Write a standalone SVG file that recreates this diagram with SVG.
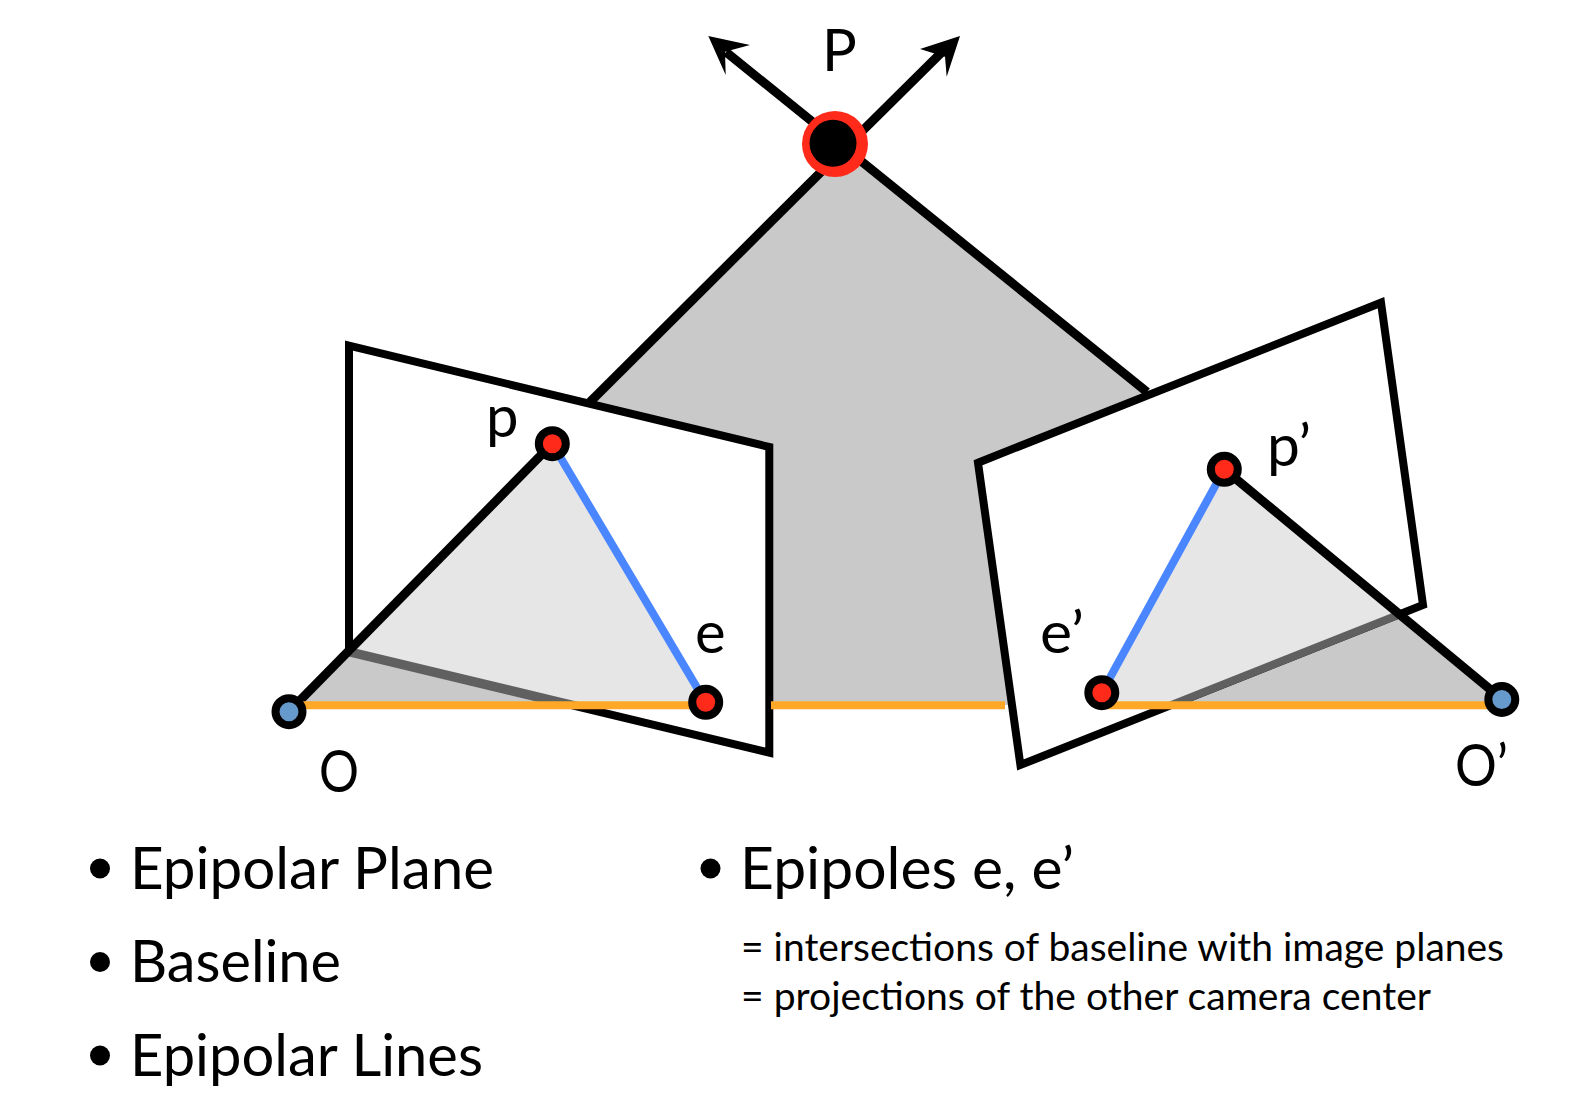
<svg xmlns="http://www.w3.org/2000/svg" width="1596" height="1100" viewBox="0 0 1596 1100">
<style>
text{font-family:"Lato","Open Sans","Liberation Sans",sans-serif;fill:#000}
.lab{font-size:58px}
.big{font-size:58px}
.sm{font-size:39px}
.quad{fill:#fff;stroke:#000;stroke-width:8;stroke-miterlimit:10}
.blk{stroke:#000;stroke-width:9;fill:none}
.blu{stroke:#4a86ff;stroke-width:8;fill:none}
.org{stroke:#ffa726;stroke-width:8;fill:none}
.nr{fill:#ff2a1a;stroke:#000;stroke-width:8}
.nb{fill:#6699cc;stroke:#000;stroke-width:8}
.lt{fill:#e6e6e6}
.dk{fill:#606060}
</style>
<rect width="1596" height="1100" fill="#fff"/>
<g id="plane"><polygon points="835,158 835,140 1147,392 1224,469 1502,705 289,705" fill="#c9c9c9"/></g>
<g id="imageLeft"><polygon class="quad" points="349,345.7 769.3,447 769.3,752.7 349,651.7"/><polygon class="lt" points="349,652 552,444 705.7,702 705.7,705 571,705"/><polygon class="dk" points="349,647 349,656.5 551,705 591,705"/></g>
<g id="imageRight"><polygon class="quad" points="978,462.7 1381,302.7 1423,605 1020.4,765"/><polygon class="lt" points="1224,469 1398,617 1171,705 1102,705 1102,693"/><polygon class="dk" points="1398,610.7 1398,619.3 1182,705 1160.7,705"/></g>
<g id="connectors">
<line class="blk" x1="835" y1="158" x2="590" y2="402"/>
<line class="blk" x1="835" y1="140" x2="1147" y2="392"/>
<line class="blk" x1="835" y1="140" x2="726" y2="52"/>
<line class="blk" x1="835" y1="158" x2="946" y2="48"/>
<polygon points="708.3,36 750,45 725,51.7 725.7,75"/>
<polygon points="960,36 920,49 945,56.7 946.7,76.7"/>
<line class="blk" x1="289" y1="711.7" x2="552.3" y2="443.7"/>
<line class="blk" x1="1224.3" y1="469.3" x2="1501.8" y2="699"/>
<line class="blu" x1="552.3" y1="443.7" x2="705.7" y2="702.3"/>
<line class="blu" x1="1224.3" y1="469.3" x2="1101.8" y2="692.7"/>
<line class="org" x1="289" y1="705.3" x2="705.7" y2="705.3"/>
<line class="org" x1="771" y1="705.3" x2="1005" y2="705.3"/>
<line class="org" x1="1101.8" y1="705.3" x2="1501.8" y2="705.3"/>
</g>
<g id="P"><circle cx="835" cy="144" r="33" fill="#ff2a1a"/><circle cx="833" cy="143.3" r="23.5" fill="#000"/><text class="lab" x="822" y="70.5">P</text></g>
<g id="p"><circle class="nr" cx="552.3" cy="443.7" r="13.5"/><text class="lab" x="486" y="437">p</text></g>
<g id="e"><circle class="nr" cx="705.7" cy="702.3" r="13.5"/><text class="lab" x="695" y="652.5">e</text></g>
<g id="pp"><circle class="nr" cx="1224.3" cy="469.3" r="13.5"/><text class="lab" x="1267" y="466" textLength="44" lengthAdjust="spacingAndGlyphs">p’</text></g>
<g id="ep"><circle class="nr" cx="1101.8" cy="692.7" r="13.5"/><text class="lab" x="1040" y="652.5" textLength="44" lengthAdjust="spacingAndGlyphs">e’</text></g>
<g id="O"><circle class="nb" cx="289" cy="711.7" r="13.5"/><text class="lab" x="319" y="792" textLength="40" lengthAdjust="spacingAndGlyphs">O</text></g>
<g id="Op"><circle class="nb" cx="1501.8" cy="699.5" r="13.5"/><text class="lab" x="1455" y="786" textLength="53" lengthAdjust="spacingAndGlyphs">O’</text></g>
<g id="legend">
<circle cx="100" cy="868.5" r="10"/><text class="big" x="130" y="889" textLength="364" lengthAdjust="spacingAndGlyphs">Epipolar Plane</text>
<circle cx="100" cy="962" r="10"/><text class="big" x="130" y="982" textLength="211" lengthAdjust="spacingAndGlyphs">Baseline</text>
<circle cx="100" cy="1055.5" r="10"/><text class="big" x="130" y="1076" textLength="353" lengthAdjust="spacingAndGlyphs">Epipolar Lines</text>
<circle cx="710.5" cy="868.5" r="10"/><text class="big" x="740" y="889" textLength="334" lengthAdjust="spacingAndGlyphs">Epipoles e, e’</text>
<text class="sm" x="741" y="961" textLength="763" lengthAdjust="spacingAndGlyphs">= intersections of baseline with image planes</text>
<text class="sm" x="741" y="1010" textLength="690" lengthAdjust="spacingAndGlyphs">= projections of the other camera center</text>
</g>
</svg>
